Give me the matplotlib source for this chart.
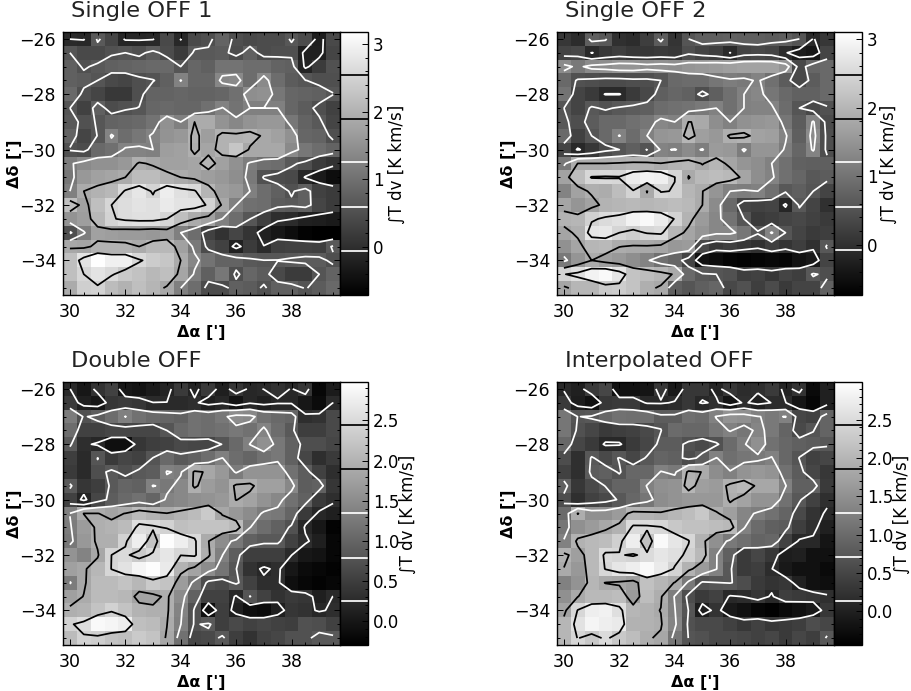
import numpy as np
import matplotlib
matplotlib.use('Agg')
import matplotlib.pyplot as plt
from matplotlib.ticker import AutoMinorLocator, MultipleLocator

### integrated intensity maps, rows run from dec -26 down to -35, columns ra 30 to 39.5
ra = [30 + 0.5*i for i in range(20)]
dec = [-26 - 0.5*j for j in range(19)]

single_off1 = [
    [-.07,-.1,.65,.35,-.12,-.12,-.1,.4,-.08,.4,.5,.8,.5,.4,.45,.45,.62,.45,-.25,.4],
    [.59,.4,.4,.55,.59,.5,.7,.45,.2,.65,.65,.7,.45,.75,.45,.5,.5,-.2,-.2,.35],
    [.75,.55,.65,.75,.8,.85,.9,.9,.59,.85,.75,1.05,1.05,.95,.95,.8,.75,-.15,.2,.55],
    [.75,.7,.59,.4,.35,.5,.57,.75,1.27,.85,.85,1.35,1.4,.95,1.4,.95,.7,.6,.5,.5],
    [.9,.5,.35,.15,.15,.5,.8,.8,.85,.8,.8,.85,1.0,1.45,1.5,1.1,.85,.8,.75,.6],
    [.59,.3,.75,.45,.55,.6,.85,.9,.85,.85,1.0,1.27,1.05,1.25,1.25,1.25,.85,.7,.5,.3],
    [.65,.55,.6,.8,.85,.9,1.05,1.5,1.25,1.9,1.9,1.55,1.35,1.55,1.6,1.6,1.1,.8,.65,.35],
    [.8,.35,.6,1.3,.95,1.1,1.3,1.55,1.6,2.0,1.7,2.0,2.0,2.05,1.85,1.75,1.5,.85,.8,.5],
    [.55,.45,.9,1.0,1.3,1.3,1.25,1.7,1.75,1.95,1.8,2.0,2.3,1.85,1.85,1.85,1.4,1.1,.95,.8],
    [1.2,1.4,1.5,1.5,1.6,1.95,1.85,1.75,1.75,1.8,2.05,1.75,1.5,1.2,1.0,.95,.65,.5,.2,.05],
    [1.1,1.6,1.75,1.8,1.9,2.15,2.15,2.0,1.9,1.8,1.7,1.6,1.45,1.15,.55,.45,.4,-.1,-.3,-.5],
    [1.25,1.9,2.0,2.1,2.6,2.8,2.5,2.9,2.7,2.6,2.05,1.7,1.6,1.25,.95,.75,.55,.75,.3,.2],
    [2.2,1.75,2.2,2.55,2.65,2.75,2.7,2.85,2.75,2.75,2.5,1.85,1.25,1.0,.95,.7,.65,.75,.35,.2],
    [1.55,1.7,2.1,2.5,2.65,2.7,2.7,2.55,2.2,1.9,1.75,1.25,.95,.6,.25,.0,-.05,-.2,-.25,-.3],
    [.5,1.2,1.75,1.7,1.65,1.65,1.6,1.7,1.25,.95,.3,.05,.35,.1,-.2,-.35,-.5,-.65,-.7,-.7],
    [1.85,1.8,2.0,2.0,2.0,1.9,2.1,2.1,1.75,1.15,.45,.3,-.2,.2,-.05,.25,.3,.3,.25,.65],
    [2.2,2.75,3.15,2.95,2.95,2.6,2.4,2.3,1.9,1.35,1.05,.8,.8,.65,.6,.6,.65,.7,.7,.5],
    [2.2,2.55,2.75,2.6,2.35,2.25,2.1,2.2,1.8,1.2,.75,1.1,.5,.85,.7,.4,.2,.2,.59,.8],
    [1.9,2.45,2.5,2.15,2.0,2.2,2.05,1.85,1.25,.95,.45,.45,.75,.7,.55,.75,.75,.57,.7,.9],
]

single_off2 = [
    [.1,-.05,.7,.6,.0,-.05,.2,.65,.05,.55,.7,.7,.75,.7,.7,.65,.7,.55,-.1,.1],
    [.3,.35,-.1,.1,.2,.1,.1,.15,.1,.45,.3,.2,-.09,.3,.35,.3,-.05,-.3,-.4,.3],
    [1.35,1.1,1.35,1.4,1.5,1.5,1.4,1.45,1.4,1.5,1.55,1.6,1.65,1.7,1.7,1.7,1.5,.35,.8,.85],
    [.85,.5,.45,.4,.4,.45,.45,.55,.85,.9,.9,1.05,1.15,1.1,1.25,.95,.65,.35,.65,.85],
    [1.0,.3,.15,-.1,-.1,.15,.35,.7,.8,.75,.45,.7,.95,1.2,1.3,1.05,.85,.75,.75,.85],
    [.55,.3,.6,.5,.6,.65,.7,.9,.95,1.0,1.1,1.2,.95,1.2,1.25,1.25,.9,.55,.35,.5],
    [.6,.45,.65,.85,.85,.95,1.05,1.3,1.2,1.85,1.8,1.4,1.2,1.45,1.5,1.55,1.05,.65,1.25,.4],
    [.85,.25,.55,.85,1.22,.9,1.2,1.5,1.55,2.0,1.65,1.55,1.9,1.95,1.7,1.65,1.25,.7,1.35,.45],
    [.3,-.12,.1,.4,.55,.7,.54,1.25,1.18,1.35,1.17,1.6,1.55,1.15,1.5,1.5,1.15,.8,1.25,.45],
    [1.1,1.85,1.85,1.85,1.9,1.95,1.95,1.85,1.95,2.0,1.82,2.0,1.75,1.5,1.4,1.2,.95,.75,.7,.7],
    [1.7,2.1,2.5,2.52,2.5,2.8,2.9,2.85,2.48,1.82,2.05,2.1,2.05,1.75,1.4,1.25,.95,.8,.6,.65],
    [1.25,1.7,1.9,1.85,2.1,2.45,1.82,2.5,2.45,2.0,1.85,1.5,1.2,1.15,1.2,.95,.6,.7,.55,.3],
    [1.75,1.5,1.7,1.95,2.0,2.05,2.0,2.05,2.1,2.05,1.84,1.35,.85,.3,.25,.3,-.15,.6,.3,.0],
    [1.95,2.0,2.4,2.55,2.65,2.9,3.0,2.8,2.45,1.95,1.6,1.3,1.0,.55,.15,.2,.3,.35,.25,.15],
    [1.75,1.9,2.7,2.75,2.47,2.35,2.5,2.55,2.0,1.75,1.5,1.3,1.3,1.05,.6,1.25,.55,.3,.15,.2],
    [1.45,1.75,2.0,2.05,1.85,1.8,1.8,1.75,1.55,1.6,.35,.1,.2,.1,.0,.2,.05,.2,.0,.6],
    [1.1,1.5,1.84,1.65,1.55,1.4,1.25,.95,.8,.3,-.45,-.55,-.65,-.7,-.65,-.6,-.65,-.45,-.35,.3],
    [2.45,2.6,2.9,3.0,2.7,2.2,2.1,2.0,1.8,.85,.6,.55,.5,.2,.25,.1,.3,.2,.6,.45],
    [1.75,2.0,2.0,2.3,2.35,2.2,1.9,1.8,.7,.55,.7,.8,.35,.5,.2,.4,.15,.3,.3,.75],
]

double_off = [
    [.25,.0,.35,.55,.0,-.05,.05,.15,.45,.15,.45,.1,.4,.2,.25,.35,.23,.4,-.2,.05],
    [.45,.1,.0,.4,.45,.4,.25,.25,.25,.3,.1,.2,-.05,.2,.1,.2,.2,.0,-.15,.25],
    [1.3,.75,.9,1.1,1.35,1.15,1.05,1.0,.95,1.15,1.1,1.25,1.5,1.45,1.15,1.05,1.0,.3,.35,.65],
    [1.1,.55,.55,.6,.6,.6,.6,.79,1.05,1.15,1.1,1.15,1.25,1.15,1.4,1.1,.85,.5,.5,.65],
    [.85,.3,.2,-.1,-.1,.4,.5,.55,.65,.6,.6,.8,1.05,1.35,1.55,1.25,.95,.7,.7,.6],
    [.5,.25,.8,.45,.6,.55,.8,1.05,.85,.95,1.1,1.35,1.1,1.0,1.15,1.25,.95,.6,.3,.45],
    [.45,.25,.7,.85,.7,.85,.9,1.36,1.3,1.95,1.85,1.65,1.3,1.6,1.6,1.6,1.15,.9,.55,.3],
    [.85,.4,.5,.85,1.0,.95,1.36,1.25,1.45,1.95,1.7,1.6,1.95,1.95,1.75,1.75,1.45,.9,.95,.4],
    [.55,.15,.6,.9,1.05,1.15,1.0,1.4,1.45,1.55,1.6,1.65,1.9,1.8,1.6,1.45,1.15,.95,.45,.3],
    [1.35,1.9,1.9,1.8,1.9,2.1,2.0,1.9,2.0,2.1,2.3,1.85,1.65,1.5,1.3,1.25,1.0,.45,.2,.1],
    [1.3,1.7,1.95,2.0,2.1,2.55,2.5,2.4,2.15,2.2,2.2,2.2,2.1,1.35,1.1,.95,.75,.2,.0,-.25],
    [1.25,1.65,1.95,1.95,2.4,2.75,2.2,2.95,2.75,2.5,1.9,1.5,1.25,.95,.85,.85,.55,.3,.1,-.2],
    [1.6,1.4,1.85,2.44,2.5,2.3,2.5,2.65,2.45,2.5,1.95,1.35,.9,.5,.5,.5,.25,.0,-.05,-.2],
    [1.75,1.85,2.05,2.45,2.6,2.85,2.95,2.7,2.0,1.8,1.5,1.2,.8,.35,.2,.3,.0,-.15,-.2,-.25],
    [1.3,1.85,2.1,2.1,2.2,2.05,2.3,2.2,1.7,1.25,.7,.65,.85,.55,.3,.3,-.1,-.2,-.25,-.2],
    [1.75,1.9,2.1,2.1,2.05,1.8,1.8,1.95,1.5,.95,.55,.55,.2,.8,.55,.35,.45,.4,.1,.25],
    [1.95,2.0,2.2,2.4,2.2,2.0,1.95,1.95,1.4,.75,-.1,.5,.1,-.1,-.15,.1,.4,.35,.2,.3],
    [2.4,2.55,2.9,2.85,2.75,2.15,2.1,1.9,1.35,.75,.85,.5,.65,.55,.6,.55,.5,.75,.7,.55],
    [2.1,2.4,2.35,2.2,2.15,2.3,2.2,1.85,1.15,.6,.65,.85,.5,.35,.55,.6,.75,.75,.85,.85],
]

interp_off = [
    [.1,.0,.35,.5,-.2,-.2,-.15,.3,-.1,.3,.3,.05,.3,.15,.2,.35,.05,.25,-.3,.0],
    [.35,-.05,-.2,.3,.35,.35,.1,.1,.17,.3,.1,.2,-.15,.2,.0,.15,.15,-.15,-.35,.0],
    [1.15,.7,.75,.95,1.1,1.05,1.05,.8,.8,1.05,1.0,1.3,1.55,1.5,1.3,1.2,1.3,.5,.45,.9],
    [1.15,.65,.5,.35,.4,.45,.55,.7,1.0,.95,.95,1.15,1.3,1.15,1.35,1.2,.9,.55,.7,.9],
    [.95,.5,.35,.1,.1,.35,.5,.8,.8,.65,.55,.65,1.0,1.25,1.5,1.1,.95,.85,.8,.75],
    [.6,.2,.75,.55,.73,.5,.75,.9,.85,.6,.8,1.3,1.05,1.15,1.2,1.3,.95,.7,.45,.5],
    [.45,.2,.8,.85,.68,.95,.95,1.3,1.2,1.95,1.85,1.45,1.3,1.55,1.6,1.55,1.1,.8,.5,.3],
    [.85,.3,.55,.72,.9,.9,1.3,1.5,1.55,2.0,1.7,1.65,1.95,2.05,1.8,1.8,1.3,.85,.85,.35],
    [.6,.2,.45,.55,.75,.95,1.15,1.45,1.55,1.6,1.6,1.6,1.9,1.75,1.55,1.55,1.1,.75,.45,.2],
    [1.0,1.88,1.5,1.5,1.65,2.0,1.95,1.9,2.0,2.1,2.25,1.9,1.7,1.35,1.25,1.1,.9,.55,.25,.1],
    [1.15,1.5,1.65,1.8,1.95,2.5,2.5,2.45,2.25,2.15,2.15,2.1,2.05,1.3,1.0,.85,.8,.4,.2,.0],
    [1.3,1.95,2.05,2.1,2.35,2.75,2.15,2.9,2.65,2.45,1.95,1.5,1.2,1.05,.9,.95,.45,.1,.1,-.15],
    [1.95,1.7,2.05,2.5,2.45,2.4,2.5,2.65,2.55,2.35,2.05,1.3,.85,.35,.5,.3,-.05,.0,-.2,-.2],
    [1.85,1.6,2.05,2.45,2.65,2.75,2.9,2.7,2.4,1.95,1.65,1.3,.75,.35,.4,.15,-.1,-.2,-.2,-.3],
    [1.3,1.55,2.0,1.85,1.8,1.7,2.15,2.0,1.85,1.2,.65,.7,.73,.6,.35,.25,.3,.0,-.2,-.25],
    [1.5,1.85,2.05,2.05,2.1,1.65,2.1,1.9,1.25,.6,.35,.45,.1,.15,.3,.1,.4,.35,.3,.2],
    [1.75,2.45,2.75,2.8,2.55,2.0,1.95,1.85,1.3,.7,-.05,.25,-.1,-.2,-.35,-.4,-.3,-.2,-.1,.3],
    [2.0,2.6,2.85,2.75,2.7,1.95,1.95,1.9,1.35,.65,.55,.55,.45,.3,.45,.3,.35,.4,.6,.5],
    [2.0,2.45,2.25,2.5,2.25,2.1,1.9,1.8,1.15,.7,.65,.55,.55,.5,.45,.5,.35,.5,.4,.75],
]

titles = ['Single OFF 1', 'Single OFF 2', 'Double OFF', 'Interpolated OFF']
maps = [single_off1, single_off2, double_off, interp_off]
ranges = [(-0.71, 3.18), (-0.73, 3.10), (-0.30, 2.98), (-0.44, 2.99)]
levels = [
    [-0.06, 0.59, 1.25, 1.90, 2.55],
    [-0.08, 0.55, 1.20, 1.84, 2.47],
    [0.245, 0.79, 1.34, 1.89, 2.44],
    [0.14, 0.71, 1.28, 1.86, 2.43],
]
cb_ticks = [
    [0, 1, 2, 3],
    [0, 1, 2, 3],
    [0.0, 0.5, 1.0, 1.5, 2.0, 2.5],
    [0.0, 0.5, 1.0, 1.5, 2.0, 2.5],
]
cb_labels = [
    ['0', '1', '2', '3'],
    ['0', '1', '2', '3'],
    ['0.0', '0.5', '1.0', '1.5', '2.0', '2.5'],
    ['0.0', '0.5', '1.0', '1.5', '2.0', '2.5'],
]
line_colors = ['white', 'white', 'white', 'black', 'black']

W, H = 911., 691.
fig = plt.figure(figsize=(W/100, H/100), dpi=100, facecolor='white')
plt.rcParams['font.family'] = ['DejaVu Sans']

# pixel boxes of the panels: left, top
boxes = [(63, 32), (557, 32), (63, 382), (557, 382)]
pw, ph = 277, 263
cw = 28
# centre of the colorbar label, pixels right of the panel left edge
cb_label_x = [334, 332, 345, 345]

for k in range(4):
    x0, y0 = boxes[k]
    ax = fig.add_axes([x0/W, 1-(y0+ph)/H, pw/W, ph/H])
    cax = fig.add_axes([(x0+pw)/W, 1-(y0+ph)/H, cw/W, ph/H])
    z = np.array(maps[k])
    vmin, vmax = ranges[k]
    im = ax.imshow(z, cmap='gray', vmin=vmin, vmax=vmax, origin='upper', aspect='auto',
                   extent=[ra[0]-0.25, ra[-1]+0.25, dec[-1]-0.25, dec[0]+0.25],
                   interpolation='nearest')
    ax.contour(ra, dec, z, levels=levels[k], colors=line_colors, linewidths=1.25)

    ax.set_xticks([30, 32, 34, 36, 38])
    ax.set_yticks([-26, -28, -30, -32, -34])
    ax.set_yticklabels(['\u221226', '\u221228', '\u221230', '\u221232', '\u221234'])
    ax.xaxis.set_minor_locator(MultipleLocator(0.5))
    ax.yaxis.set_minor_locator(MultipleLocator(0.5))
    ax.tick_params(which='major', direction='in', top=True, right=True, length=4.5, width=0.7,
                   labelsize=12.5, color='black')
    ax.tick_params(axis='x', which='major', pad=6)
    ax.tick_params(axis='y', which='major', pad=5)
    ax.tick_params(which='minor', direction='in', top=True, right=True, length=2.2, width=0.7)
    ax.set_xlabel("\u0394\u03b1 [']", fontsize=11.5, fontweight='bold', labelpad=3)
    ax.set_ylabel("\u0394\u03b4 [']", fontsize=11.5, fontweight='bold', labelpad=-2)
    for s in ax.spines.values():
        s.set_linewidth(1.0)
    fig.text((x0+8)/W, 1-(y0-15)/H, titles[k], fontsize=16.2, color='#222222', ha='left', va='baseline')

    cb = fig.colorbar(im, cax=cax)
    cb.ax.hlines(levels[k], 0, 1, colors=line_colors, linewidths=1.25, transform=cb.ax.get_yaxis_transform())
    cb.set_ticks(cb_ticks[k])
    cb.set_ticklabels(cb_labels[k])
    cb.ax.yaxis.set_minor_locator(AutoMinorLocator(5))
    cb.ax.tick_params(which='major', direction='in', length=4.5, width=0.7, labelsize=12, pad=3.5)
    cb.ax.tick_params(which='minor', direction='in', length=2.2, width=0.7)
    cb.outline.set_linewidth(1.0)
    fig.text((x0+cb_label_x[k])/W, 1-(y0+132)/H, '\u222bT dv [K km/s]', fontsize=12,
             rotation=90, ha='center', va='center')

fig.savefig('out.png', dpi=100)
